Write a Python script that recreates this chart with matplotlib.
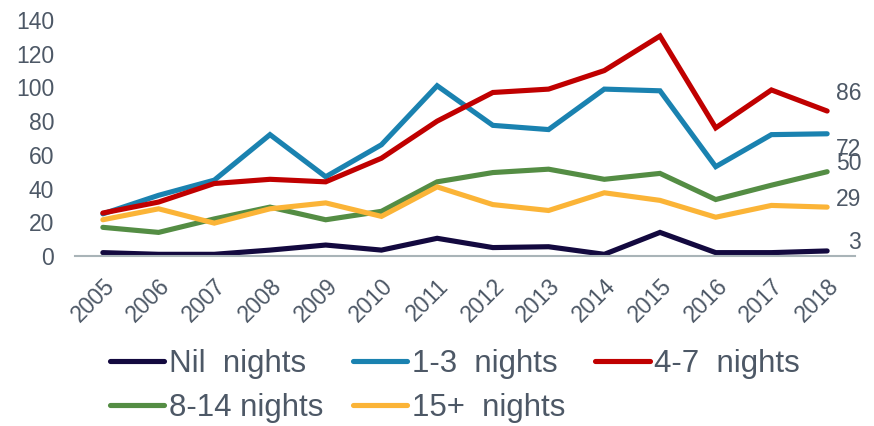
import matplotlib
matplotlib.use("Agg")
import matplotlib.pyplot as plt

plt.rcParams['font.family'] = ['Liberation Sans', 'DejaVu Sans']

years = ["2005", "2006", "2007", "2008", "2009", "2010", "2011", "2012",
         "2013", "2014", "2015", "2016", "2017", "2018"]
series_names = ["Nil  nights", "1-3  nights", "4-7  nights", "8-14 nights", "15+  nights"]
nil_nights = [2, 1, 1, 3.5, 6.5, 3.5, 10.5, 5, 5.5, 1, 14, 2, 2, 3]
n1_3 = [25, 36, 45, 72, 47, 66, 101, 77.5, 75, 99, 98, 53, 72, 72.5]
n4_7 = [25.5, 32, 43, 45.5, 44, 58, 80, 97, 99, 110, 130.5, 76, 98.5, 86]
n8_14 = [17, 14, 22, 29, 21.5, 26.5, 44, 49.5, 51.5, 45.5, 49, 33.5, 42, 50]
n15p = [21.5, 28, 19.5, 28, 31.5, 23.5, 41, 30.5, 27, 37.5, 33, 23, 30, 29]
end_labels = ["3", "72", "86", "50", "29"]

colors = ['#13093f', '#1a82b0', '#c00000', '#548d44', '#fbb437']
label_dy = [8, -16, 18, 8, 8]  # px offsets of end labels, positive = up (style)
text_color = '#4d5866'

fig = plt.figure(figsize=(8.74, 4.26), dpi=100)
ax = fig.add_axes([75/874, 1-256/426, (855-75)/874, (256-20)/426])

data = [nil_nights, n1_3, n4_7, n8_14, n15p]
x = list(range(len(years)))
lines = []
for vals, c, name in zip(data, colors, series_names):
    ln, = ax.plot(x, vals, color=c, lw=3.7, solid_capstyle='round',
                  solid_joinstyle='miter', label=name)
    lines.append(ln)

for vals, c, lab, dy in zip(data, colors, end_labels, label_dy):
    ax.annotate(lab, xy=(x[-1], vals[-1]), xycoords='data',
                xytext=(34*0.72, dy*0.72), textcoords='offset points',
                ha='right', va='center', fontsize=16.5, color=text_color)

ax.set_xlim(-0.5, len(years) - 0.5)
ax.set_ylim(0, 140)
ax.set_yticks(range(0, 141, 20))
ax.set_xticks(x)
ax.set_xticklabels(years, rotation=45, ha='right', rotation_mode='anchor')
ax.tick_params(axis='both', length=0, labelsize=16.5, labelcolor=text_color)
ax.tick_params(axis='x', pad=13)
ax.tick_params(axis='y', pad=15)
for s in ['top', 'right', 'left']:
    ax.spines[s].set_visible(False)
ax.spines['bottom'].set_color('#a9b4b8')
ax.spines['bottom'].set_linewidth(1.5)
ax.patch.set_alpha(0)

order = [0, 3, 1, 4, 2]
leg = fig.legend([lines[i] for i in order], [series_names[i] for i in order],
                 ncol=3, loc='center', bbox_to_anchor=(455/874, 0.093),
                 frameon=False, fontsize=22.5, handlelength=1.74,
                 handletextpad=0.15, columnspacing=0.95, labelspacing=0.45,
                 borderpad=0)
for t in leg.get_texts():
    t.set_color(text_color)

fig.savefig('out.png', dpi=100)
